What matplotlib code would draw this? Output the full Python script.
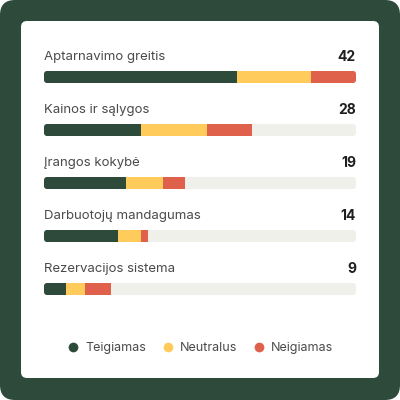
import matplotlib.pyplot as plt
from matplotlib.patches import FancyBboxPatch
from matplotlib.lines import Line2D

plt.rcParams['font.family'] = ['Inter', 'DejaVu Sans']

# data
categories = ["Aptarnavimo greitis", "Kainos ir sąlygos", "Įrangos kokybė",
              "Darbuotojų mandagumas", "Rezervacijos sistema"]
positive = [26, 13, 11, 10, 3]
neutral = [10, 9, 5, 3, 2.5]
negative = [6, 6, 3, 1, 3.5]
totals = [42, 28, 19, 14, 9]
series_names = ["Teigiamas", "Neutralus", "Neigiamas"]

colors = ["#2d4a3a", "#ffcc5c", "#e0614b"]
track_color = "#f0f0eb"
bg_color = "#2d4a3a"

fig = plt.figure(figsize=(4, 4), dpi=100)

# background + card, in pixel coordinates
ax0 = fig.add_axes([0, 0, 1, 1])
ax0.set_xlim(0, 400)
ax0.set_ylim(400, 0)
ax0.axis('off')
ax0.add_patch(FancyBboxPatch((0, 0), 400, 400, boxstyle="round,pad=0,rounding_size=15",
                             fc=bg_color, ec='none'))
ax0.add_patch(FancyBboxPatch((21, 21), 358, 357, boxstyle="round,pad=0,rounding_size=6",
                             fc="white", ec='none'))

# bar area
bar_left, bar_width = 44, 312
first_row, row_step, bar_h = 77, 53, 12
ax = fig.add_axes([bar_left / 400, 0, bar_width / 400, 1])
ax.set_xlim(0, max(totals))
ax.set_ylim(400, 0)
ax.axis('off')
ax.patch.set_alpha(0)

for i, cat in enumerate(categories):
    yc = first_row + i * row_step
    track = FancyBboxPatch((bar_left, yc - bar_h / 2), bar_width, bar_h,
                           boxstyle="round,pad=0,rounding_size=3",
                           fc=track_color, ec='none')
    ax0.add_patch(track)

    left = 0
    for vals, c in zip([positive, neutral, negative], colors):
        bars = ax.barh(yc, vals[i], left=left, height=bar_h, color=c, linewidth=0)
        for b in bars:
            b.set_clip_path(track)
        left += vals[i]

    ax0.text(bar_left, yc - 20, cat, ha='left', va='center', fontsize=9.5, color='#4a4a4a')
    ax0.text(bar_left + bar_width, yc - 20, str(totals[i]), ha='right', va='center',
             fontsize=10, fontweight='bold', color='#1f1f1f')

# legend
handles = [Line2D([], [], marker='o', linestyle='none', markersize=7,
                  markerfacecolor=c, markeredgecolor='none') for c in colors]
ax0.legend(handles, series_names, loc='center', bbox_to_anchor=(0.5, 1 - 348 / 400),
           ncol=3, frameon=False, fontsize=9, handletextpad=0.5, columnspacing=1.2,
           labelcolor='#4a4a4a', handlelength=1.0)

fig.savefig("out.png", dpi=100, facecolor='white')
